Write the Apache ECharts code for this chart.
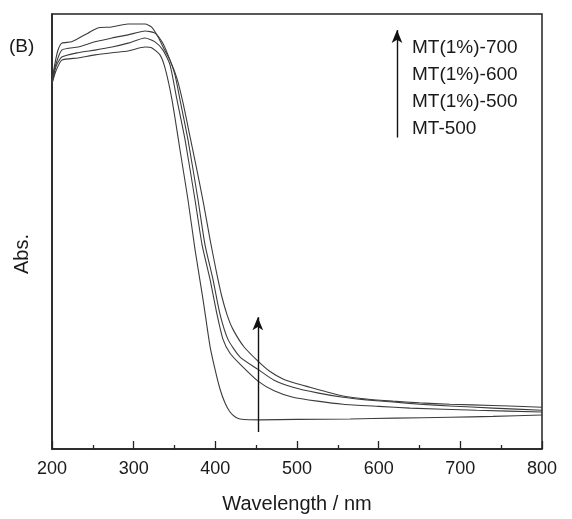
<!DOCTYPE html>
<html>
<head>
<meta charset="utf-8">
<script src="https://cdn.jsdelivr.net/npm/echarts@6/dist/echarts.min.js"></script>
<style>html,body{margin:0;padding:0;background:#fff}#c{width:572px;height:519px}</style>
</head>
<body>
<div id="c"></div>
<script>
// Wavelength (nm) / absorbance (a.u.) pairs
const mt1_700 = [[200,84.5],[203,88],[207,91.5],[212,93.3],[224,93.6],[244,95.6],[256,96.8],[273,97.0],[293,97.7],[314,97.7],[322,97.0],[330,94.7],[336,92.4],[344.5,89.4],[353,85.2],[360.4,79.6],[369,71.8],[377.6,64.0],[385,57.0],[393.5,48.2],[401,41],[408,35],[415,30.5],[421.6,27.5],[435,23.5],[452.2,20.2],[467,17.8],[482.9,16.1],[500,15],[515.9,14.2],[535,13.2],[556.3,12.2],[585,11.5],[617.5,11.0],[650,10.6],[687.4,10.3],[740,10.0],[800,9.6]];
const mt1_600 = [[200,84.5],[204,88],[212,91.7],[231.8,92.4],[252.7,93.6],[273.5,94.5],[293.1,95.2],[313.9,96.1],[326.1,95.6],[334.7,93.6],[342,90.6],[350.6,86],[356.7,80.3],[366.5,71.1],[378.8,57.3],[387.3,47],[397.1,39],[405.7,31],[415.5,25.2],[430,21.2],[452.2,18.3],[472,15.8],[495.1,14.2],[525,12.9],[556.3,11.9],[585,11.3],[617.5,10.8],[650,10.3],[687.4,9.9],[740,9.4],[800,8.9]];
const mt1_500 = [[200,84],[205,88],[212,90.1],[231.8,91.1],[252.7,91.7],[273.5,92.4],[293.1,93.3],[313.9,94.5],[326.1,93.6],[335.9,91.7],[344.5,88.3],[353,80.3],[362.9,71.1],[375.1,57.3],[383.7,47],[393.5,39],[402,31],[409.4,25.2],[418,22],[430.2,19.5],[452.2,15.6],[472,13.4],[495.1,11.9],[525,11],[556.3,10.3],[600,9.8],[638.4,9.4],[720,8.9],[800,8.5]];
const mt_500 = [[200,84],[205,87],[212,89.4],[231.8,89.9],[252.7,90.6],[273.5,91.1],[293.1,91.5],[313.9,92.4],[322.4,92.2],[332.2,90.6],[338.4,87.6],[346.9,80.3],[356.7,68.8],[366.5,57.3],[375.1,45.9],[384.9,34.4],[393.5,23.6],[400,18],[405.7,13.8],[412,10.5],[418,8.5],[424,7.4],[430.2,6.9],[454.7,6.7],[500,6.8],[565,6.9],[620,7.1],[687.4,7.3],[740,7.5],[800,7.8]];
const seriesNames = ['MT(1%)-700','MT(1%)-600','MT(1%)-500','MT-500'];
const xTicks = [200,300,400,500,600,700,800];
// arrows: [x, yStart, yEnd]
const arrowMain = [452, 3.9, 30.3];
const arrowLegend = [622.5, 71.6, 96.3];

const lineColor = '#3c3c3c';
const allData = [mt1_700, mt1_600, mt1_500, mt_500];
const series = allData.map((d, i) => ({
  name: seriesNames[i], type: 'line', data: d, showSymbol: false, symbol: 'none',
  smooth: 0.2, lineStyle: {color: lineColor, width: 1.1}, silent: true
}));
series.push({
  type: 'line', data: [], silent: true,
  markLine: {
    silent: true, symbol: ['none', 'arrow'], symbolSize: [8, 13],
    label: {show: false},
    lineStyle: {color: '#111', width: 1.4, type: 'solid'},
    data: [
      [{coord: [arrowMain[0], arrowMain[1]]}, {coord: [arrowMain[0], arrowMain[2]]}],
      [{coord: [arrowLegend[0], arrowLegend[1]]}, {coord: [arrowLegend[0], arrowLegend[2]]}]
    ]
  }
});

const chart = echarts.init(document.getElementById('c'), null, {renderer: 'canvas'});
const font = '"Liberation Sans", Arial, sans-serif';
const legendTexts = seriesNames.map((n, i) => ({
  type: 'text', left: 412, top: 38 + i * 27,
  style: {text: n, font: '19px ' + font, fill: '#1a1a1a'}
}));
chart.setOption({
  animation: false,
  grid: {left: 52, right: 30, top: 14, bottom: 69, show: true, borderColor: '#222', borderWidth: 1.5},
  xAxis: {
    type: 'value', min: xTicks[0], max: xTicks[xTicks.length - 1], interval: 100,
    name: 'Wavelength / nm', nameLocation: 'middle', nameGap: 45,
    nameTextStyle: {fontSize: 20, fontFamily: font, color: '#1a1a1a'},
    axisLine: {show: true, lineStyle: {color: '#222', width: 1.5}},
    axisTick: {show: true, inside: true, length: 8, lineStyle: {color: '#222', width: 1.3}},
    minorTick: {show: true, splitNumber: 2, length: 4, lineStyle: {color: '#222', width: 1.3}},
    axisLabel: {fontSize: 18, fontFamily: font, color: '#1a1a1a', margin: 11},
    splitLine: {show: false}
  },
  yAxis: {
    type: 'value', min: 0, max: 100,
    axisLine: {show: true, lineStyle: {color: '#222', width: 1.5}},
    axisTick: {show: false}, axisLabel: {show: false}, splitLine: {show: false}
  },
  graphic: [
    {type: 'text', left: 9, top: 37, style: {text: '(B)', font: '19px ' + font, fill: '#1a1a1a'}},
    {type: 'text', x: 22, y: 254, rotation: Math.PI / 2,
     style: {text: 'Abs.', font: '20px ' + font, fill: '#1a1a1a', align: 'center', verticalAlign: 'middle'}}
  ].concat(legendTexts),
  series: series
});
</script>
</body>
</html>
